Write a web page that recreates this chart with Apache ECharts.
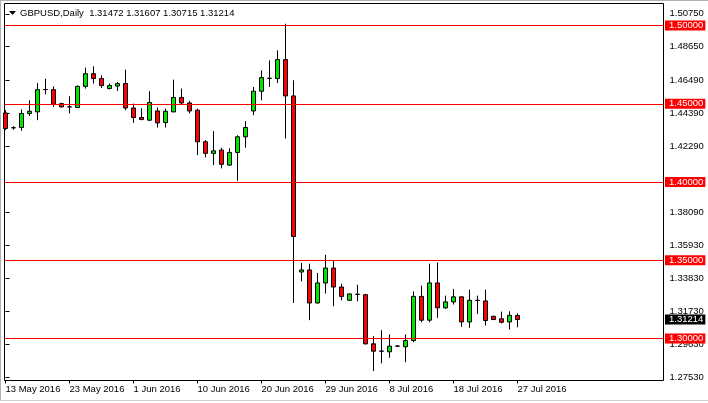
<!DOCTYPE html>
<html>
<head>
<meta charset="utf-8">
<script src="https://cdn.jsdelivr.net/npm/echarts@6/dist/echarts.min.js"></script>
<style>
html,body{margin:0;padding:0;background:#fff;}
#c{width:708px;height:403px;}
</style>
</head>
<body>
<div id="c"></div>
<script>
// ---- data (GBPUSD daily, MT4 style incl. Sunday bars) ----
var dates = ['13 May 2016','15 May 2016','16 May 2016','17 May 2016','18 May 2016','19 May 2016','20 May 2016','22 May 2016',
'23 May 2016','24 May 2016','25 May 2016','26 May 2016','27 May 2016','29 May 2016','30 May 2016','31 May 2016',
'1 Jun 2016','2 Jun 2016','3 Jun 2016','5 Jun 2016','6 Jun 2016','7 Jun 2016','8 Jun 2016','9 Jun 2016',
'10 Jun 2016','12 Jun 2016','13 Jun 2016','14 Jun 2016','15 Jun 2016','16 Jun 2016','17 Jun 2016','19 Jun 2016',
'20 Jun 2016','21 Jun 2016','22 Jun 2016','23 Jun 2016','24 Jun 2016','26 Jun 2016','27 Jun 2016','28 Jun 2016',
'29 Jun 2016','30 Jun 2016','1 Jul 2016','3 Jul 2016','4 Jul 2016','5 Jul 2016','6 Jul 2016','7 Jul 2016',
'8 Jul 2016','10 Jul 2016','11 Jul 2016','12 Jul 2016','13 Jul 2016','14 Jul 2016','15 Jul 2016','17 Jul 2016',
'18 Jul 2016','19 Jul 2016','20 Jul 2016','21 Jul 2016','22 Jul 2016','24 Jul 2016','25 Jul 2016','26 Jul 2016',
'27 Jul 2016'];

var opens = [1.4441,1.4346,1.4348,1.4438,1.4448,1.4590,1.4590,1.4501,1.4480,1.4476,1.4611,1.4692,1.4661,1.4597,1.4613,1.4629,
1.4473,1.4412,1.4395,1.4454,1.4380,1.4448,1.4540,1.4505,1.4459,1.4257,1.4183,1.4204,1.4108,1.4189,1.4289,1.4454,
1.4580,1.4663,1.4661,1.4782,1.4550,1.3425,1.3438,1.3227,1.3355,1.3450,1.3329,1.3244,1.3283,1.3280,1.2966,1.2920,
1.2915,1.2951,1.2947,1.2987,1.3269,1.3117,1.3355,1.3196,1.3234,1.3266,1.3106,1.3244,1.3240,1.3142,1.3126,1.3106,
1.31472];
var closes = [1.4342,1.4347,1.4438,1.4452,1.4590,1.4591,1.4497,1.4480,1.4479,1.4611,1.4692,1.4661,1.4616,1.4616,1.4629,1.4473,
1.4412,1.4399,1.4508,1.4378,1.4452,1.4540,1.4505,1.4454,1.4257,1.4183,1.4199,1.4113,1.4189,1.4289,1.4348,1.4580,
1.4667,1.4662,1.4782,1.4550,1.3652,1.3438,1.3227,1.3355,1.3450,1.3329,1.3269,1.3285,1.3282,1.2966,1.2919,1.2919,
1.2951,1.2952,1.2987,1.3269,1.3117,1.3355,1.3196,1.3234,1.3266,1.3106,1.3244,1.3243,1.3115,1.3121,1.3104,1.3148,
1.31214];
var lows = [1.4331,1.4334,1.4327,1.4422,1.4395,1.4559,1.4480,1.4476,1.4438,1.4474,1.4597,1.4629,1.4601,1.4592,1.4582,1.4459,
1.4378,1.4395,1.4390,1.4348,1.4348,1.4446,1.4497,1.4438,1.4172,1.4157,1.4108,1.4087,1.4104,1.4008,1.4219,1.4427,
1.4522,1.4607,1.4633,1.4278,1.3227,1.3365,1.3117,1.3223,1.3287,1.3206,1.3244,1.3243,1.3238,1.2962,1.2792,1.2841,
1.2877,1.2945,1.2849,1.2976,1.3104,1.3104,1.3132,1.3189,1.3217,1.3075,1.3068,1.3157,1.3083,1.3118,1.3096,1.3057,
1.30715];
var highs = [1.4459,1.4357,1.4463,1.4522,1.4632,1.4660,1.4611,1.4506,1.4548,1.4618,1.4731,1.4739,1.4682,1.4629,1.4639,1.4718,
1.4501,1.4471,1.4580,1.4476,1.4469,1.4654,1.4597,1.4518,1.4469,1.4268,1.4325,1.4219,1.4215,1.4299,1.4389,1.4607,
1.4713,1.4777,1.4841,1.5011,1.4650,1.3482,1.3478,1.3419,1.3535,1.3499,1.3350,1.3287,1.3344,1.3285,1.3015,1.3053,
1.3026,1.2957,1.3026,1.3301,1.3338,1.3478,1.3486,1.3274,1.3317,1.3269,1.3312,1.3274,1.3312,1.3145,1.3172,1.3174,
1.31607];

var dateTickIdx = [0, 8, 16, 24, 32, 40, 48, 56, 64];
var priceTicks = [1.50750, 1.48650, 1.46490, 1.44390, 1.42290, 1.38090, 1.35930, 1.33830, 1.31730, 1.29630, 1.27530];
var levels = [1.50, 1.45, 1.40, 1.35, 1.30];
var symbolName = 'GBPUSD,Daily';

// ---- build ----
var last = opens.length - 1;
var currentPrice = closes[last];
var candleData = opens.map(function (o, i) { return [i, o, closes[i], lows[i], highs[i]]; });
var FONT = 'Liberation Sans, Arial, sans-serif';
var FS = 9.5;

var chart = echarts.init(document.getElementById('c'), null, { renderer: 'canvas' });
chart.setOption({
  animation: false,
  backgroundColor: '#ffffff',
  grid: {
    left: 4.5, top: 3.5, right: 44.5, bottom: 22.5,
    show: true, borderColor: '#000', borderWidth: 1, backgroundColor: '#fff',
    containLabel: false, outerBoundsMode: 'none'
  },
  xAxis: {
    type: 'value', min: -0.125, max: 82.25, position: 'bottom',
    axisLine: { show: false },
    splitLine: { show: false },
    axisTick: { show: true, length: 3, customValues: dateTickIdx, lineStyle: { color: '#000' } },
    axisLabel: {
      customValues: dateTickIdx, align: 'left', margin: 4, color: '#000',
      fontFamily: FONT, fontSize: FS,
      formatter: function (v) { return dates[Math.round(v)] || ''; }
    }
  },
  yAxis: [{
    type: 'value', position: 'right', min: 1.27316, max: 1.51406, scale: true,
    axisLine: { show: false },
    splitLine: { show: false },
    axisTick: { show: true, length: 4, customValues: priceTicks, lineStyle: { color: '#000' } },
    axisLabel: {
      customValues: priceTicks, margin: 6, color: '#000', fontFamily: FONT, fontSize: FS,
      formatter: function (v) { return v.toFixed(5); }
    }
  }, {
    type: 'value', position: 'right', min: 1.27316, max: 1.51406, scale: true, z: 5,
    axisLine: { show: false }, splitLine: { show: false }, axisTick: { show: false },
    axisLabel: {
      customValues: levels.concat([currentPrice]), margin: 1.5, fontFamily: FONT, fontSize: FS,
      formatter: function (v) {
        return (Math.abs(v - currentPrice) < 1e-9 ? '{b|' : '{r|') + v.toFixed(5) + '}';
      },
      rich: {
        r: { color: '#fff', backgroundColor: '#ff0000', fontFamily: FONT, fontSize: FS, lineHeight: 11, padding: [0, 2, 0, 4] },
        b: { color: '#fff', backgroundColor: '#000', fontFamily: FONT, fontSize: FS, lineHeight: 11, padding: [0, 2, 0, 4] }
      }
    }
  }],
  series: [{
    type: 'candlestick',
    xAxisIndex: 0, yAxisIndex: 0,
    data: candleData,
    encode: { x: 0, y: [1, 2, 3, 4] },
    barWidth: 5,
    itemStyle: {
      color: '#00e600', color0: '#ff0000',
      borderColor: '#000', borderColor0: '#000', borderColorDoji: '#000', borderWidth: 1
    },
    markLine: {
      silent: true, symbol: 'none', animation: false,
      label: { show: false },
      lineStyle: { color: '#ff0000', width: 1, type: 'solid' },
      emphasis: { disabled: true },
      data: levels.map(function (l) { return { yAxis: l }; })
    }
  }],
  graphic: [
    { type: 'line', shape: { x1: 0, y1: 0.5, x2: 708, y2: 0.5 }, style: { stroke: '#b0b0b0', lineWidth: 1 }, silent: true },
    { type: 'line', shape: { x1: 0.5, y1: 0, x2: 0.5, y2: 401 }, style: { stroke: '#b0b0b0', lineWidth: 1 }, silent: true },
    { type: 'line', shape: { x1: 0, y1: 400.5, x2: 708, y2: 400.5 }, style: { stroke: '#d0d0d0', lineWidth: 1 }, silent: true },
    { type: 'polygon', shape: { points: [[9, 11], [16, 11], [12.5, 15]] }, style: { fill: '#000' }, silent: true },
    {
      type: 'text', x: 20, y: 13.5, silent: true,
      style: {
        text: symbolName + '  ' + [opens[last], highs[last], lows[last], closes[last]].map(function (v) { return v.toFixed(5); }).join(' '),
        fill: '#000', font: FS + 'px ' + FONT, verticalAlign: 'middle', align: 'left'
      }
    }
  ]
});
</script>
</body>
</html>
